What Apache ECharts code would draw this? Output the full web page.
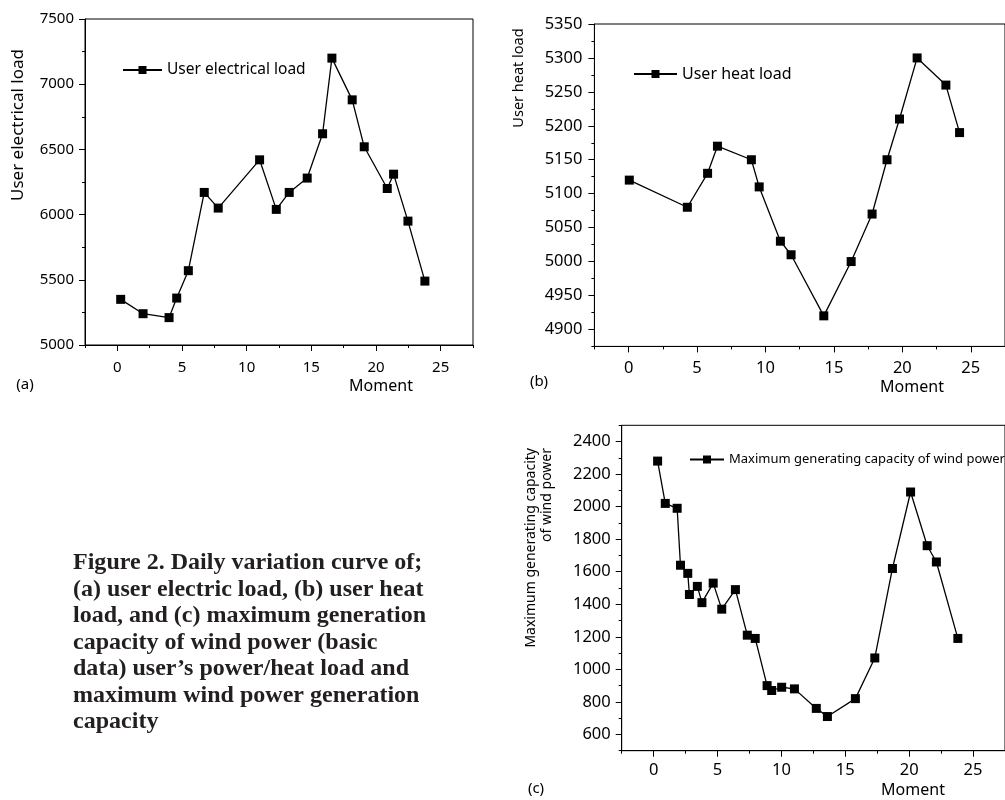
<!DOCTYPE html>
<html>
<head>
<meta charset="utf-8">
<script src="https://cdn.jsdelivr.net/npm/echarts@6/dist/echarts.min.js"></script>
<style>html,body{margin:0;padding:0;background:#fff;}#chart{width:1005px;height:800px;}</style>
</head>
<body>
<div id="chart"></div>
<script>
// ---- data ----
const xMajorTicks = [0, 5, 10, 15, 20, 25];

const elecMoment = [0.26, 1.99, 4.0, 4.59, 5.49, 6.72, 7.8, 11.0, 12.29, 13.29, 14.68, 15.87, 16.59, 18.16, 19.09, 20.87, 21.36, 22.47, 23.78];
const elecLoad = [5350, 5240, 5210, 5360, 5570, 6170, 6050, 6420, 6040, 6170, 6280, 6620, 7200, 6880, 6520, 6200, 6310, 5950, 5490];
const elecTicks = [5000, 5500, 6000, 6500, 7000, 7500];

const heatMoment = [0.05, 4.29, 5.77, 6.49, 8.97, 9.54, 11.09, 11.87, 14.26, 16.26, 17.79, 18.88, 19.79, 21.08, 23.18, 24.18];
const heatLoad = [5120, 5080, 5130, 5170, 5150, 5110, 5030, 5010, 4920, 5000, 5070, 5150, 5210, 5300, 5260, 5190];
const heatTicks = [4900, 4950, 5000, 5050, 5100, 5150, 5200, 5250, 5300, 5350];

const windMoment = [0.31, 0.91, 1.84, 2.1, 2.67, 2.8, 3.42, 3.78, 4.66, 5.33, 6.4, 7.33, 7.95, 8.88, 9.24, 10.02, 11.02, 12.73, 13.6, 15.79, 17.31, 18.69, 20.11, 21.41, 22.13, 23.81];
const windCap = [2280, 2020, 1990, 1640, 1590, 1460, 1510, 1410, 1530, 1370, 1490, 1210, 1190, 900, 870, 890, 880, 760, 710, 820, 1070, 1620, 2090, 1760, 1660, 1190];
const windTicks = [600, 800, 1000, 1200, 1400, 1600, 1800, 2000, 2200, 2400];

const seriesNames = ['User electrical load', 'User heat load', 'Maximum generating capacity of wind power'];
const captionLines = [
  'Figure 2. Daily variation curve of;',
  '(a) user electric load, (b) user heat',
  'load, and (c) maximum generation',
  'capacity of wind power (basic',
  'data) user\u2019s power/heat load and',
  'maximum wind power generation',
  'capacity'
];

// ---- layout ----
const FONT = 'Noto Sans';
const panels = [
  { grid: {left: 85, top: 19, width: 388, height: 326}, x: [-2.5, 27.5], y: [5000, 7500], yStep: 250, yTicks: elecTicks, xs: elecMoment, ys: elecLoad, fs: 15, yMargin: 11, xMargin: 15,
    legend: {left: 117, top: 57, itemWidth: 39, fontSize: 15.5} },
  { grid: {left: 594.4, top: 24, width: 419.4, height: 322.4}, x: [-2.5, 27.5], y: [4875, 5350], yStep: 25, yTicks: heatTicks, xs: heatMoment, ys: heatLoad, fs: 16.5, yMargin: 12, xMargin: 13,
    legend: {left: 628, top: 61, itemWidth: 43, fontSize: 16} },
  { grid: {left: 621.7, top: 425.3, width: 386.4, height: 325.4}, x: [-2.5, 27.5], y: [500, 2500], yStep: 100, yTicks: windTicks, xs: windMoment, ys: windCap, fs: 16.5, yMargin: 11, xMargin: 11,
    legend: {left: 684, top: 448, itemWidth: 34, fontSize: 13} }
];

const grids = [], xAxes = [], yAxes = [], series = [], legends = [];
const plain = v => String(v);
panels.forEach((p, i) => {
  grids.push(Object.assign({show: true, borderColor: '#000', borderWidth: 1, backgroundColor: 'transparent', containLabel: false}, p.grid));
  // main x axis (minor ticks)
  xAxes.push({type: 'value', gridIndex: i, min: p.x[0], max: p.x[1], interval: 2.5,
    axisLine: {show: true, onZero: false, lineStyle: {color: '#000', width: 1}},
    axisTick: {show: true, length: 3, lineStyle: {color: '#000'}},
    axisLabel: {show: false}, splitLine: {show: false}});
  // label x axis (major ticks)
  xAxes.push({type: 'value', gridIndex: i, min: p.x[0], max: p.x[1], position: 'bottom',
    axisLine: {show: false, onZero: false},
    axisTick: {show: true, length: 6, customValues: xMajorTicks, lineStyle: {color: '#000'}},
    axisLabel: {show: true, customValues: xMajorTicks, formatter: plain, fontSize: p.fs, fontFamily: FONT, color: '#000', margin: p.xMargin},
    splitLine: {show: false}});
  yAxes.push({type: 'value', gridIndex: i, min: p.y[0], max: p.y[1], interval: p.yStep,
    axisLine: {show: true, onZero: false, lineStyle: {color: '#000', width: 1}},
    axisTick: {show: true, length: 3, lineStyle: {color: '#000'}},
    axisLabel: {show: false}, splitLine: {show: false}});
  yAxes.push({type: 'value', gridIndex: i, min: p.y[0], max: p.y[1], position: 'left',
    axisLine: {show: false, onZero: false},
    axisTick: {show: true, length: 6, customValues: p.yTicks, lineStyle: {color: '#000'}},
    axisLabel: {show: true, customValues: p.yTicks, formatter: plain, fontSize: p.fs, fontFamily: FONT, color: '#000', margin: p.yMargin},
    splitLine: {show: false}});
  series.push({
    name: seriesNames[i], type: 'line', xAxisIndex: 2 * i, yAxisIndex: 2 * i,
    data: p.xs.map((v, k) => [v, p.ys[k]]),
    symbol: 'rect', symbolSize: 9, showSymbol: true,
    lineStyle: {color: '#000', width: 1.3},
    itemStyle: {color: '#000'},
    animation: false
  });
  legends.push({data: [seriesNames[i]], left: p.legend.left, top: p.legend.top, itemWidth: p.legend.itemWidth, itemHeight: 10,
    textStyle: {fontSize: p.legend.fontSize, fontFamily: FONT, color: '#000'}, selectedMode: false});
});

const txt = (text, x, y, size, extra) => Object.assign({type: 'text', x: x, y: y,
  style: Object.assign({text: text, fontSize: size, fontFamily: FONT, fill: '#000', align: 'center', verticalAlign: 'middle'}, (extra && extra.style) || {})},
  extra ? {rotation: extra.rotation || 0} : {});

const graphics = [
  txt('User electrical load', 18, 125, 17, {rotation: Math.PI / 2}),
  txt('User heat load', 519, 78, 14.5, {rotation: Math.PI / 2}),
  txt('Maximum generating capacity\nof wind power', 539, 448, 14, {rotation: Math.PI / 2, style: {align: 'right', lineHeight: 16}}),
  txt('Moment', 381, 386, 16),
  txt('Moment', 912, 387, 16),
  txt('Moment', 913, 790, 16),
  txt('(a)', 25, 385, 15),
  txt('(b)', 539, 382, 15),
  txt('(c)', 536, 789, 15),
  {type: 'text', x: 73, y: 550, scaleX: 1.045, style: {text: captionLines.join('\n'), fontFamily: 'Liberation Serif', fontWeight: 'bold', fontSize: 23, lineHeight: 26.5, fill: '#231f20', align: 'left', verticalAlign: 'top'}}
];

const chart = echarts.init(document.getElementById('chart'), null, {renderer: 'canvas'});
chart.setOption({
  animation: false,
  backgroundColor: '#fff',
  grid: grids, xAxis: xAxes, yAxis: yAxes, series: series, legend: legends,
  graphic: graphics
});
</script>
</body>
</html>
